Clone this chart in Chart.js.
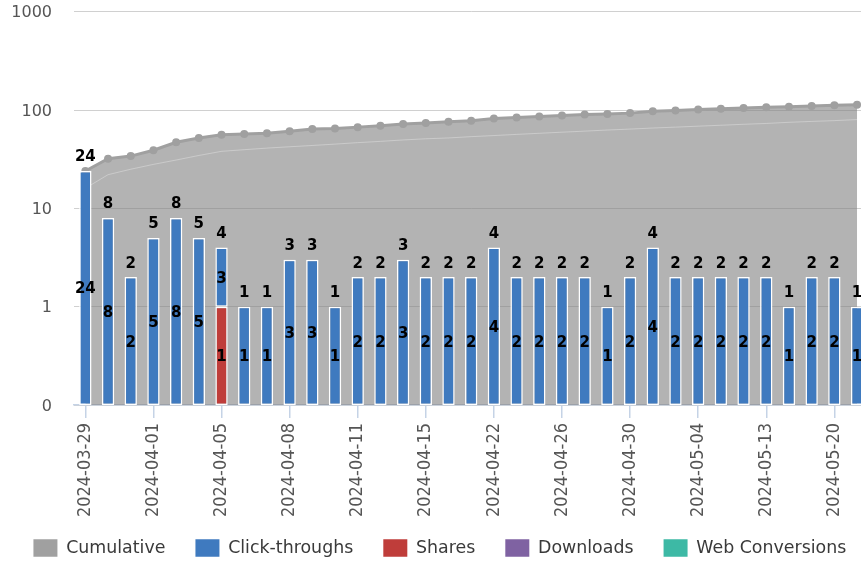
<!DOCTYPE html>
<html>
<head>
<meta charset="utf-8">
<script src="https://cdn.jsdelivr.net/npm/chart.js@4.4.1/dist/chart.umd.min.js"></script>
<style>
html, body { margin: 0; padding: 0; overflow: hidden; background: #ffffff; }
#wrap { position: relative; width: 900px; height: 562px; }
</style>
</head>
<body>
<div id="wrap"><canvas id="chart"></canvas></div>
<script>
// ---- data ----
const categories = [
  '2024-03-29','2024-03-30','2024-03-31','2024-04-01','2024-04-02','2024-04-03','2024-04-05',
  '2024-04-06','2024-04-07','2024-04-08','2024-04-09','2024-04-10','2024-04-11','2024-04-12',
  '2024-04-14','2024-04-15','2024-04-17','2024-04-19','2024-04-22','2024-04-23','2024-04-25',
  '2024-04-26','2024-04-27','2024-04-29','2024-04-30','2024-05-01','2024-05-03','2024-05-04',
  '2024-05-07','2024-05-10','2024-05-13','2024-05-15','2024-05-17','2024-05-20','2024-05-22'
];
const clickThroughs = [24,8,2,5,8,5,3,1,1,3,3,1,2,2,3,2,2,2,4,2,2,2,2,1,2,4,2,2,2,2,2,1,2,2,1];
const shares = [null,null,null,null,null,null,1,null,null,null,null,null,null,null,null,null,null,null,
  null,null,null,null,null,null,null,null,null,null,null,null,null,null,null,null,null];
const downloads = [null,null,null,null,null,null,null,null,null,null,null,null,null,null,null,null,null,null,
  null,null,null,null,null,null,null,null,null,null,null,null,null,null,null,null,null];
const webConversions = [null,null,null,null,null,null,null,null,null,null,null,null,null,null,null,null,null,null,
  null,null,null,null,null,null,null,null,null,null,null,null,null,null,null,null,null];
const cumulative = [24,32,34,39,47,52,56,57,58,61,64,65,67,69,72,74,76,78,82,84,86,88,90,91,93,97,99,101,103,105,107,108,110,112,113];
const cumulativeTrace = [16,22,25,28,31,34.5,38,39.5,41,42.3,43.6,45,46.6,48,49.6,51,52,53.6,55,56.5,58,59.5,61,62.6,64,65.6,67,68.5,70,71.6,73,75,76.6,78,80];
const yTicks = [0.1, 1, 10, 100, 1000];
const yTickLabels = ['0', '1', '10', '100', '1000'];
const legendNames = ['Cumulative', 'Click-throughs', 'Shares', 'Downloads', 'Web Conversions'];
const legendColors = ['#a0a0a0', '#3f7abf', '#bf3d3a', '#7f62a2', '#3db9a5'];

Chart.defaults.font.family = '"DejaVu Sans", sans-serif';

const valueLabels = {
  id: 'valueLabels',
  afterDatasetsDraw(chart) {
    const ctx = chart.ctx;
    ctx.save();
    ctx.font = 'bold 15px "DejaVu Sans"';
    ctx.fillStyle = '#000000';
    ctx.textAlign = 'center';
    ctx.textBaseline = 'alphabetic';
    const tops = {};
    chart.data.datasets.forEach((ds, di) => {
      const meta = chart.getDatasetMeta(di);
      if (meta.type !== 'bar' || !chart.isDatasetVisible(di)) return;
      meta.data.forEach((el, i) => {
        const v = ds.data[i];
        if (v === null || v === undefined || v === 0) return;
        const p = el.getProps(['x', 'y', 'base'], true);
        ctx.fillText(String(v), p.x, (p.y + p.base) / 2 + 5.5);
        if (!tops[i]) tops[i] = { x: p.x, y: p.y, total: 0 };
        tops[i].total += v;
        if (p.y < tops[i].y) tops[i].y = p.y;
      });
    });
    Object.values(tops).forEach(t => {
      ctx.fillText(String(t.total), t.x, t.y - 9.5);
    });
    ctx.restore();
  }
};

const barStyle = { borderColor: '#ffffff', borderWidth: 1.5, borderSkipped: false,
  categoryPercentage: 0.8, barPercentage: 0.68 };

new Chart(document.getElementById('chart'), {
  data: {
    labels: categories,
    datasets: [
      { type: 'line', label: 'Cumulative', data: cumulative, stack: 'cum',
        borderColor: '#a0a0a0', backgroundColor: 'rgba(128,128,128,0.6)', fill: 'start',
        borderWidth: 3, pointRadius: 4, pointBackgroundColor: '#a0a0a0', pointBorderWidth: 0,
        tension: 0, order: 3 },
      { type: 'line', label: 'trace', data: cumulativeTrace, stack: 'trace',
        borderColor: 'rgba(255,255,255,0.3)', borderWidth: 1, pointRadius: 0, fill: false,
        tension: 0, order: 2 },
      Object.assign({ type: 'bar', label: 'Click-throughs', data: clickThroughs, stack: 'bars',
        backgroundColor: '#3f7abf', order: 1 }, barStyle),
      Object.assign({ type: 'bar', label: 'Shares', data: shares, stack: 'bars',
        backgroundColor: '#bf3d3a', order: 0 }, barStyle),
      Object.assign({ type: 'bar', label: 'Downloads', data: downloads, stack: 'bars',
        backgroundColor: '#7f62a2', order: 1 }, barStyle),
      Object.assign({ type: 'bar', label: 'Web Conversions', data: webConversions, stack: 'bars',
        backgroundColor: '#3db9a5', order: 1 }, barStyle)
    ]
  },
  options: {
    responsive: true,
    maintainAspectRatio: false,
    animation: false,
    events: [],
    layout: { padding: { left: 11.3, right: 31.6, top: 11.7, bottom: -4.8 } },
    scales: {
      x: {
        stacked: true,
        offset: true,
        grid: {
          offset: false,
          drawOnChartArea: false,
          drawTicks: true,
          tickLength: 13,
          lineWidth: 1.5,
          color: (c) => (c.index % 3 === 0 ? '#c5d3e6' : 'rgba(0,0,0,0)')
        },
        border: { display: true, color: '#c5d3e6', width: 1.5 },
        ticks: {
          autoSkip: false,
          minRotation: 90,
          maxRotation: 90,
          padding: 5,
          color: '#555555',
          font: { family: '"DejaVu Sans Condensed", "DejaVu Sans"', size: 18 },
          callback: function (v, i) { return i % 3 === 0 ? this.getLabelForValue(v) : ''; }
        },
        afterFit: (scale) => { scale.height = 115.3; }
      },
      y: {
        type: 'logarithmic',
        stacked: true,
        min: 0.1,
        max: 1000,
        afterBuildTicks: (scale) => { scale.ticks = yTicks.map(v => ({ value: v })); },
        grid: { color: '#d0d0d0', lineWidth: 1, drawTicks: true, tickLength: 22, tickColor: 'rgba(0,0,0,0)' },
        border: { display: false },
        ticks: {
          padding: 0,
          labelOffset: 1.5,
          color: '#555555',
          font: { size: 16 },
          callback: (v) => yTickLabels[yTicks.indexOf(v)]
        },
        afterFit: (scale) => { scale.width = 62.7; }
      }
    },
    plugins: {
      tooltip: { enabled: false },
      legend: {
        position: 'bottom',
        labels: {
          boxWidth: 24,
          boxHeight: 17.5,
          padding: 19,
          color: '#3a3a3a',
          font: { size: 17.4 },
          filter: (item) => item.datasetIndex !== 1,
          sort: (a, b) => a.datasetIndex - b.datasetIndex,
          generateLabels: (chart) => {
            const items = Chart.defaults.plugins.legend.labels.generateLabels(chart);
            items.forEach(it => {
              const k = legendNames.indexOf(it.text);
              if (k >= 0) {
                it.fillStyle = legendColors[k];
                it.strokeStyle = legendColors[k];
                it.lineWidth = 0;
                if (k < legendNames.length - 1) it.text = it.text + '  ';
              }
            });
            return items;
          }
        }
      }
    }
  },
  plugins: [valueLabels]
});
</script>
</body>
</html>
